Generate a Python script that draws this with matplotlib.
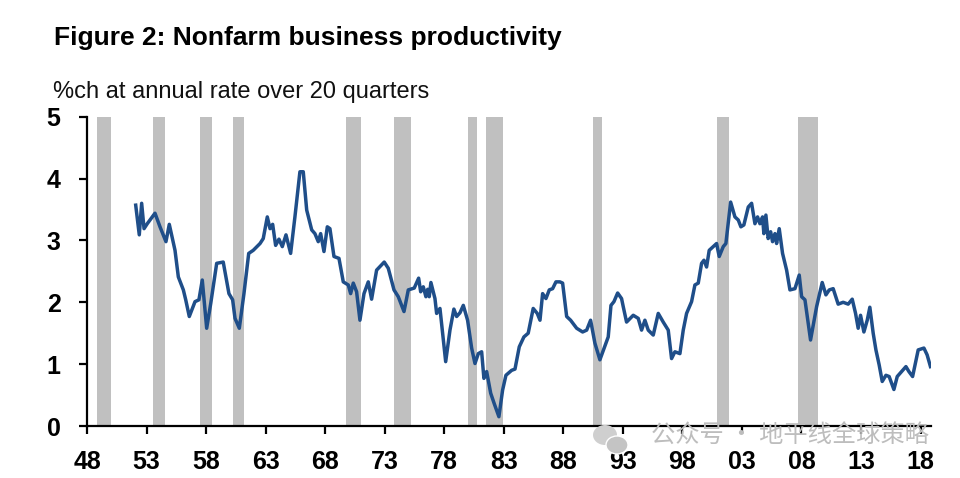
import matplotlib
matplotlib.use("Agg")
import matplotlib.pyplot as plt
from matplotlib.font_manager import FontProperties
from matplotlib.patches import Ellipse

# ---- data ----
years = [1952.09, 1952.39, 1952.59, 1952.79, 1953.06, 1953.71, 1954.13, 1954.63, 1954.91, 1955.39,
         1955.67, 1956.09, 1956.29, 1956.59, 1957.07, 1957.40, 1957.68, 1958.05, 1958.39, 1958.89,
         1959.44, 1959.92, 1960.23, 1960.43, 1960.79, 1961.18, 1961.58, 1961.96, 1962.53, 1962.80,
         1963.14, 1963.37, 1963.59, 1963.84, 1964.12, 1964.40, 1964.71, 1965.10, 1965.46, 1965.88,
         1966.16, 1966.45, 1966.87, 1967.14, 1967.42, 1967.62, 1967.90, 1968.18, 1968.40, 1968.74,
         1969.16, 1969.52, 1969.94, 1970.14, 1970.36, 1970.64, 1970.92, 1971.26, 1971.62, 1971.90,
         1972.32, 1972.96, 1973.30, 1973.78, 1974.14, 1974.42, 1974.62, 1974.98, 1975.48, 1975.85,
         1976.02, 1976.24, 1976.46, 1976.61, 1976.74, 1976.88, 1977.22, 1977.36, 1977.64, 1978.12,
         1978.48, 1978.81, 1979.04, 1979.32, 1979.60, 1979.96, 1980.30, 1980.58, 1980.86, 1981.14,
         1981.33, 1981.56, 1981.90, 1982.20, 1982.59, 1982.90, 1983.18, 1983.66, 1983.94, 1984.30,
         1984.69, 1985.05, 1985.47, 1985.81, 1986.04, 1986.26, 1986.54, 1986.82, 1987.10, 1987.38,
         1987.71, 1987.94, 1988.28, 1988.61, 1989.12, 1989.62, 1989.96, 1990.29, 1990.65, 1991.07,
         1991.43, 1991.77, 1992.00, 1992.25, 1992.56, 1992.89, 1993.03, 1993.31, 1993.87, 1994.29,
         1994.57, 1994.85, 1995.13, 1995.55, 1995.97, 1996.39, 1996.81, 1997.09, 1997.37, 1997.79,
         1998.07, 1998.35, 1998.77, 1999.05, 1999.33, 1999.61, 1999.81, 2000.03, 2000.25, 2000.59,
         2000.87, 2001.09, 2001.43, 2001.65, 2002.05, 2002.41, 2002.69, 2002.91, 2003.16, 2003.53,
         2003.81, 2004.09, 2004.31, 2004.51, 2004.73, 2004.84, 2005.01, 2005.20, 2005.41, 2005.57,
         2005.77, 2005.91, 2006.13, 2006.41, 2006.75, 2007.03, 2007.45, 2007.81, 2008.01, 2008.29,
         2008.76, 2009.27, 2009.74, 2010.05, 2010.33, 2010.66, 2011.08, 2011.50, 2011.92, 2012.26,
         2012.54, 2012.76, 2012.96, 2013.13, 2013.24, 2013.52, 2013.74, 2014.02, 2014.25, 2014.52,
         2014.78, 2015.09, 2015.36, 2015.76, 2016.04, 2016.40, 2016.77, 2017.02, 2017.33, 2017.80,
         2018.28, 2018.55, 2018.83]
productivity = [3.57, 3.09, 3.60, 3.19, 3.27, 3.44, 3.22, 2.98, 3.26, 2.84,
                2.41, 2.20, 2.04, 1.77, 2.01, 2.04, 2.36, 1.58, 1.98, 2.63,
                2.65, 2.14, 2.04, 1.74, 1.58, 2.14, 2.79, 2.84, 2.95, 3.03,
                3.38, 3.19, 3.26, 2.92, 3.02, 2.90, 3.09, 2.79, 3.38, 4.11,
                4.11, 3.49, 3.17, 3.11, 2.98, 3.11, 2.82, 3.22, 3.19, 2.74,
                2.71, 2.33, 2.28, 2.14, 2.31, 2.17, 1.71, 2.14, 2.33, 2.05,
                2.52, 2.65, 2.55, 2.20, 2.09, 1.95, 1.85, 2.20, 2.23, 2.39,
                2.17, 2.25, 2.09, 2.21, 2.09, 2.32, 2.06, 1.82, 1.90, 1.04,
                1.55, 1.89, 1.77, 1.83, 1.95, 1.71, 1.26, 1.01, 1.17, 1.20,
                0.77, 0.88, 0.53, 0.36, 0.15, 0.58, 0.82, 0.90, 0.92, 1.28,
                1.44, 1.50, 1.90, 1.82, 1.71, 2.14, 2.06, 2.20, 2.22, 2.33,
                2.33, 2.31, 1.77, 1.71, 1.58, 1.52, 1.55, 1.71, 1.34, 1.07,
                1.26, 1.44, 1.95, 2.01, 2.15, 2.06, 1.93, 1.68, 1.79, 1.74,
                1.55, 1.71, 1.55, 1.47, 1.82, 1.68, 1.55, 1.09, 1.20, 1.17,
                1.55, 1.82, 2.01, 2.28, 2.31, 2.63, 2.68, 2.57, 2.84, 2.90,
                2.95, 2.74, 2.90, 2.95, 3.62, 3.38, 3.33, 3.22, 3.25, 3.54,
                3.60, 3.27, 3.38, 3.27, 3.38, 3.11, 3.41, 3.03, 3.14, 2.98,
                3.11, 2.95, 3.19, 2.79, 2.52, 2.20, 2.22, 2.44, 2.09, 2.04,
                1.39, 1.93, 2.32, 2.12, 2.20, 2.22, 1.97, 2.00, 1.97, 2.05,
                1.82, 1.58, 1.79, 1.63, 1.52, 1.71, 1.92, 1.50, 1.23, 0.99,
                0.72, 0.82, 0.80, 0.59, 0.80, 0.88, 0.96, 0.88, 0.80, 1.23,
                1.26, 1.15, 0.96]

recession_start = [1948.81, 1953.52, 1957.51, 1960.28, 1969.75, 1973.75, 1979.96, 1981.48, 1990.49, 2000.92, 2007.67]
recession_end   = [1949.99, 1954.55, 1958.50, 1961.21, 1971.01, 1975.23, 1980.72, 1982.95, 1991.22, 2001.90, 2009.40]

tick_years = [1948, 1953, 1958, 1963, 1968, 1973, 1978, 1983, 1988, 1993, 1998, 2003, 2008, 2013, 2018]
tick_labels = ["48", "53", "58", "63", "68", "73", "78", "83", "88", "93", "98", "03", "08", "13", "18"]
y_ticks = [0, 1, 2, 3, 4, 5]

title = "Figure 2: Nonfarm business productivity"
subtitle = "%ch at annual rate over 20 quarters"
watermark = "公众号 · 地平线全球策略"

# ---- figure ----
W, H = 960, 478
fig = plt.figure(figsize=(W / 100, H / 100), dpi=100)
ax = fig.add_axes([87 / W, (H - 426) / H, (930.7 - 87) / W, (426 - 116.7) / H])

for s, e in zip(recession_start, recession_end):
    ax.axvspan(s, e, ymin=0, ymax=1, color="#C0C0C0", lw=0, zorder=1)

ax.plot(years, productivity, color="#1F4E89", lw=2.5, solid_joinstyle="round", zorder=3)

ax.set_xlim(1948, 2018.85)
ax.set_ylim(0, 5)
ax.set_xticks(tick_years)
ax.set_xticklabels(tick_labels)
ax.set_yticks(y_ticks)

for side in ("top", "right"):
    ax.spines[side].set_visible(False)
for side in ("left", "bottom"):
    ax.spines[side].set_linewidth(1.6)
    ax.spines[side].set_color("black")
    ax.spines[side].set_zorder(4)

tick_fp = FontProperties(family="Liberation Sans", weight="bold", size=18)
ax.tick_params(axis="both", direction="out", length=6, width=1.6, colors="black")
ax.tick_params(axis="y", pad=13)
ax.tick_params(axis="x", pad=11)
for lab in ax.get_xticklabels() + ax.get_yticklabels():
    lab.set_fontproperties(tick_fp)

fig.text(54 / W, (H - 45) / H, title, family="Liberation Sans", weight="bold",
         size=19, ha="left", va="baseline", color="black")
fig.text(53 / W, (H - 98) / H, subtitle, family="Liberation Sans", weight="normal",
         size=17, ha="left", va="baseline", color="#111111")

# watermark
fig.text(929 / W, (H - 436) / H, watermark, family=["Noto Sans CJK SC", "DejaVu Sans"],
         size=17.5, ha="right", va="center", color="#BDBDBD", zorder=10)
fig.patches.append(Ellipse((605 / W, (H - 435) / H), 24 / W, 20 / H, transform=fig.transFigure,
                           facecolor="#CFCFCF", edgecolor="none", zorder=9))
fig.patches.append(Ellipse((617 / W, (H - 445) / H), 22 / W, 18 / H, transform=fig.transFigure,
                           facecolor="#C4C4C4", edgecolor="white", lw=1, zorder=9))

fig.savefig("out.png", dpi=100, facecolor="white")
